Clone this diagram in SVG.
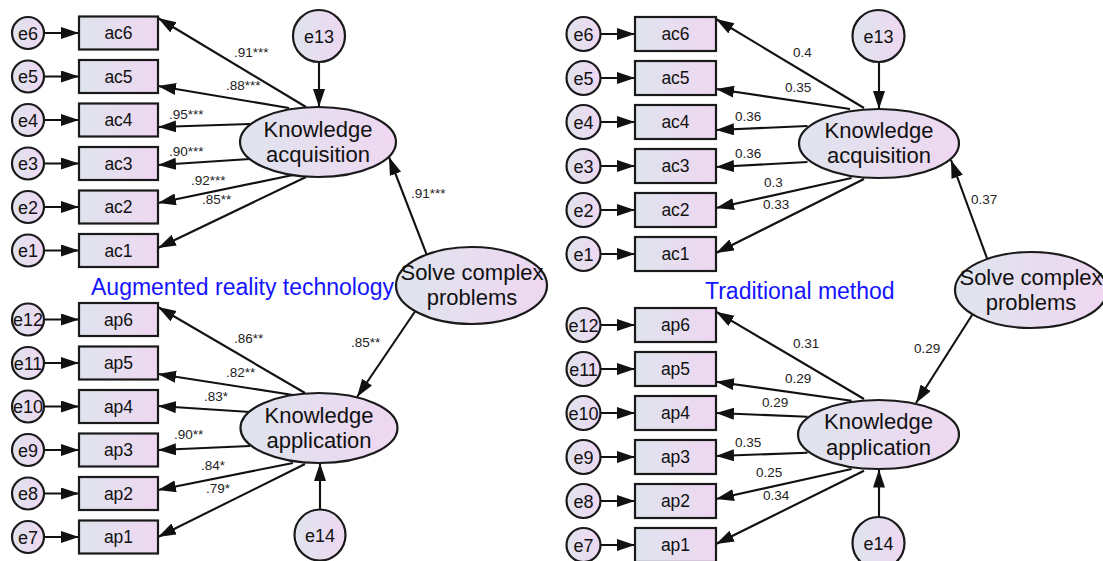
<svg xmlns="http://www.w3.org/2000/svg" width="1103" height="561" viewBox="0 0 1103 561">
<defs>
<linearGradient id="g" x1="0" y1="0" x2="1" y2="0">
<stop offset="0" stop-color="#dfe4ee"/>
<stop offset="1" stop-color="#efd7f1"/>
</linearGradient>
<marker id="ah" markerUnits="userSpaceOnUse" markerWidth="20" markerHeight="13" refX="18" refY="6" orient="auto">
<path d="M0,0 L18,6 L0,12 Z" fill="#111"/>
</marker>
<style>
.c line{stroke:#111;stroke-width:2.1;marker-end:url(#ah)}
.c text,.n text{font-family:"Liberation Sans",Arial,sans-serif}
.lab{font-size:13.5px;fill:#222}
.n rect,.n circle,.n ellipse{fill:url(#g);stroke:#1a1a1a;stroke-width:2.2}
.n text{fill:#111;text-anchor:middle}
.et{font-size:18px}
.rt{font-size:17.5px}
.lt{font-size:22px}
.title{font-family:"Liberation Sans",Arial,sans-serif;font-size:23px;fill:#1414ff}
</style>
</defs>

<g id="connectors" class="c">
<line x1="44" y1="33" x2="79" y2="33"/>
<line x1="44" y1="76.5" x2="79" y2="76.5"/>
<line x1="44" y1="120" x2="79" y2="120"/>
<line x1="44" y1="163.5" x2="79" y2="163.5"/>
<line x1="44" y1="207" x2="79" y2="207"/>
<line x1="44" y1="250.5" x2="79" y2="250.5"/>
<line x1="44" y1="319.5" x2="79" y2="319.5"/>
<line x1="44" y1="363" x2="79" y2="363"/>
<line x1="44" y1="406.5" x2="79" y2="406.5"/>
<line x1="44" y1="450" x2="79" y2="450"/>
<line x1="44" y1="493.5" x2="79" y2="493.5"/>
<line x1="44" y1="537" x2="79" y2="537"/>
<line x1="306" y1="107" x2="158" y2="18"/>
<line x1="289" y1="108" x2="158" y2="86"/>
<line x1="250" y1="124" x2="158" y2="127"/>
<line x1="250" y1="159" x2="158" y2="165"/>
<line x1="293" y1="175" x2="158" y2="203"/>
<line x1="306" y1="177" x2="158" y2="248"/>
<line x1="305" y1="393" x2="158" y2="307"/>
<line x1="293" y1="395" x2="158" y2="374"/>
<line x1="250" y1="412" x2="158" y2="406"/>
<line x1="250" y1="446" x2="158" y2="450"/>
<line x1="293" y1="463" x2="158" y2="490"/>
<line x1="305" y1="464" x2="158" y2="537"/>
<line x1="319" y1="62" x2="319" y2="107"/>
<line x1="320" y1="509" x2="320" y2="463"/>
<line x1="428" y1="258" x2="389" y2="157"/>
<line x1="416" y1="310" x2="357" y2="397"/>
<line x1="600.5" y1="34" x2="635" y2="34"/>
<line x1="600.5" y1="78" x2="635" y2="78"/>
<line x1="600.5" y1="122" x2="635" y2="122"/>
<line x1="600.5" y1="166" x2="635" y2="166"/>
<line x1="600.5" y1="210" x2="635" y2="210"/>
<line x1="600.5" y1="254" x2="635" y2="254"/>
<line x1="600.5" y1="325" x2="635" y2="325"/>
<line x1="600.5" y1="369" x2="635" y2="369"/>
<line x1="600.5" y1="413" x2="635" y2="413"/>
<line x1="600.5" y1="457" x2="635" y2="457"/>
<line x1="600.5" y1="501" x2="635" y2="501"/>
<line x1="600.5" y1="545" x2="635" y2="545"/>
<line x1="864" y1="108" x2="716" y2="19"/>
<line x1="850" y1="109" x2="716" y2="89"/>
<line x1="807.5" y1="126" x2="716" y2="130"/>
<line x1="807.5" y1="162" x2="716" y2="167"/>
<line x1="851.6" y1="178" x2="716" y2="208"/>
<line x1="864" y1="179" x2="716" y2="253"/>
<line x1="864" y1="399" x2="716" y2="311.7"/>
<line x1="851.6" y1="400.7" x2="716" y2="381.7"/>
<line x1="807.5" y1="416.7" x2="716" y2="413"/>
<line x1="807.5" y1="452.7" x2="716" y2="456"/>
<line x1="851.6" y1="469" x2="716" y2="499"/>
<line x1="864" y1="470.7" x2="716" y2="544"/>
<line x1="879" y1="62" x2="879" y2="109"/>
<line x1="879" y1="517" x2="879" y2="469.5"/>
<line x1="988" y1="261" x2="951" y2="160"/>
<line x1="974" y1="312" x2="916" y2="403"/>

<text class="lab" x="234" y="57">.91***</text>
<text class="lab" x="226" y="90">.88***</text>
<text class="lab" x="169" y="119">.95***</text>
<text class="lab" x="169" y="156">.90***</text>
<text class="lab" x="191" y="185">.92***</text>
<text class="lab" x="202" y="204">.85**</text>
<text class="lab" x="411" y="198">.91***</text>
<text class="lab" x="234" y="343">.86**</text>
<text class="lab" x="226" y="377">.82**</text>
<text class="lab" x="204" y="401">.83*</text>
<text class="lab" x="174" y="439">.90**</text>
<text class="lab" x="201" y="470">.84*</text>
<text class="lab" x="206" y="493">.79*</text>
<text class="lab" x="351" y="347">.85**</text>
<text class="lab" x="793" y="57">0.4</text>
<text class="lab" x="785" y="92">0.35</text>
<text class="lab" x="735" y="121">0.36</text>
<text class="lab" x="735" y="158">0.36</text>
<text class="lab" x="764" y="187">0.3</text>
<text class="lab" x="763" y="209">0.33</text>
<text class="lab" x="971" y="204">0.37</text>
<text class="lab" x="793" y="348">0.31</text>
<text class="lab" x="785" y="383">0.29</text>
<text class="lab" x="762" y="407">0.29</text>
<text class="lab" x="735" y="447">0.35</text>
<text class="lab" x="756" y="477">0.25</text>
<text class="lab" x="763" y="500">0.34</text>
<text class="lab" x="914" y="353">0.29</text>
</g>

<text class="title" x="91" y="295">Augmented reality technology</text>
<text class="title" x="705" y="299">Traditional method</text>

<g class="n">
<g id="L-e6"><circle cx="28" cy="33" r="16"/><text class="et" x="28" y="39.5">e6</text></g>
<g id="L-e5"><circle cx="28" cy="76.5" r="16"/><text class="et" x="28" y="83">e5</text></g>
<g id="L-e4"><circle cx="28" cy="120" r="16"/><text class="et" x="28" y="126.5">e4</text></g>
<g id="L-e3"><circle cx="28" cy="163.5" r="16"/><text class="et" x="28" y="170">e3</text></g>
<g id="L-e2"><circle cx="28" cy="207" r="16"/><text class="et" x="28" y="213.5">e2</text></g>
<g id="L-e1"><circle cx="28" cy="250.5" r="16"/><text class="et" x="28" y="257">e1</text></g>
<g id="L-e12"><circle cx="28" cy="319.5" r="16"/><text class="et" x="28" y="326">e12</text></g>
<g id="L-e11"><circle cx="28" cy="363" r="16"/><text class="et" x="28" y="369.5">e11</text></g>
<g id="L-e10"><circle cx="28" cy="406.5" r="16"/><text class="et" x="28" y="413">e10</text></g>
<g id="L-e9"><circle cx="28" cy="450" r="16"/><text class="et" x="28" y="456.5">e9</text></g>
<g id="L-e8"><circle cx="28" cy="493.5" r="16"/><text class="et" x="28" y="500">e8</text></g>
<g id="L-e7"><circle cx="28" cy="537" r="16"/><text class="et" x="28" y="543.5">e7</text></g>

<g id="L-ac6"><rect x="79" y="16.5" width="79" height="33"/><text class="rt" x="118.5" y="39">ac6</text></g>
<g id="L-ac5"><rect x="79" y="60" width="79" height="33"/><text class="rt" x="118.5" y="82.5">ac5</text></g>
<g id="L-ac4"><rect x="79" y="103.5" width="79" height="33"/><text class="rt" x="118.5" y="126">ac4</text></g>
<g id="L-ac3"><rect x="79" y="147" width="79" height="33"/><text class="rt" x="118.5" y="169.5">ac3</text></g>
<g id="L-ac2"><rect x="79" y="190.5" width="79" height="33"/><text class="rt" x="118.5" y="213">ac2</text></g>
<g id="L-ac1"><rect x="79" y="234" width="79" height="33"/><text class="rt" x="118.5" y="256.5">ac1</text></g>
<g id="L-ap6"><rect x="79" y="303" width="79" height="33"/><text class="rt" x="118.5" y="325.5">ap6</text></g>
<g id="L-ap5"><rect x="79" y="346.5" width="79" height="33"/><text class="rt" x="118.5" y="369">ap5</text></g>
<g id="L-ap4"><rect x="79" y="390" width="79" height="33"/><text class="rt" x="118.5" y="412.5">ap4</text></g>
<g id="L-ap3"><rect x="79" y="433.5" width="79" height="33"/><text class="rt" x="118.5" y="456">ap3</text></g>
<g id="L-ap2"><rect x="79" y="477" width="79" height="33"/><text class="rt" x="118.5" y="499.5">ap2</text></g>
<g id="L-ap1"><rect x="79" y="520.5" width="79" height="33"/><text class="rt" x="118.5" y="543">ap1</text></g>

<g id="L-e13"><circle cx="319" cy="36" r="26"/><text class="et" x="319" y="42.5">e13</text></g>
<g id="L-KA"><ellipse cx="318" cy="142" rx="78" ry="35"/><text class="lt" x="318" y="137">Knowledge</text><text class="lt" x="318" y="162">acquisition</text></g>
<g id="L-SCP"><ellipse cx="471.5" cy="285.5" rx="75.5" ry="38.5"/><text class="lt" x="472" y="280">Solve complex</text><text class="lt" x="472" y="305">problems</text></g>
<g id="L-KApp"><ellipse cx="319" cy="428" rx="78.5" ry="35"/><text class="lt" x="319" y="423">Knowledge</text><text class="lt" x="319" y="448">application</text></g>
<g id="L-e14"><circle cx="320" cy="535" r="25.5"/><text class="et" x="320" y="541.5">e14</text></g>
</g>

<g class="n">
<g id="R-e6"><circle cx="583.5" cy="34" r="17"/><text class="et" x="583.5" y="40.5">e6</text></g>
<g id="R-e5"><circle cx="583.5" cy="78" r="17"/><text class="et" x="583.5" y="84.5">e5</text></g>
<g id="R-e4"><circle cx="583.5" cy="122" r="17"/><text class="et" x="583.5" y="128.5">e4</text></g>
<g id="R-e3"><circle cx="583.5" cy="166" r="17"/><text class="et" x="583.5" y="172.5">e3</text></g>
<g id="R-e2"><circle cx="583.5" cy="210" r="17"/><text class="et" x="583.5" y="216.5">e2</text></g>
<g id="R-e1"><circle cx="583.5" cy="254" r="17"/><text class="et" x="583.5" y="260.5">e1</text></g>
<g id="R-e12"><circle cx="583.5" cy="325" r="17"/><text class="et" x="583.5" y="331.5">e12</text></g>
<g id="R-e11"><circle cx="583.5" cy="369" r="17"/><text class="et" x="583.5" y="375.5">e11</text></g>
<g id="R-e10"><circle cx="583.5" cy="413" r="17"/><text class="et" x="583.5" y="419.5">e10</text></g>
<g id="R-e9"><circle cx="583.5" cy="457" r="17"/><text class="et" x="583.5" y="463.5">e9</text></g>
<g id="R-e8"><circle cx="583.5" cy="501" r="17"/><text class="et" x="583.5" y="507.5">e8</text></g>
<g id="R-e7"><circle cx="583.5" cy="545" r="17"/><text class="et" x="583.5" y="551.5">e7</text></g>

<g id="R-ac6"><rect x="635" y="17" width="81" height="34"/><text class="rt" x="675.5" y="40">ac6</text></g>
<g id="R-ac5"><rect x="635" y="61" width="81" height="34"/><text class="rt" x="675.5" y="84">ac5</text></g>
<g id="R-ac4"><rect x="635" y="105" width="81" height="34"/><text class="rt" x="675.5" y="128">ac4</text></g>
<g id="R-ac3"><rect x="635" y="149" width="81" height="34"/><text class="rt" x="675.5" y="172">ac3</text></g>
<g id="R-ac2"><rect x="635" y="193" width="81" height="34"/><text class="rt" x="675.5" y="216">ac2</text></g>
<g id="R-ac1"><rect x="635" y="237" width="81" height="34"/><text class="rt" x="675.5" y="260">ac1</text></g>
<g id="R-ap6"><rect x="635" y="308" width="81" height="34"/><text class="rt" x="675.5" y="331">ap6</text></g>
<g id="R-ap5"><rect x="635" y="352" width="81" height="34"/><text class="rt" x="675.5" y="375">ap5</text></g>
<g id="R-ap4"><rect x="635" y="396" width="81" height="34"/><text class="rt" x="675.5" y="419">ap4</text></g>
<g id="R-ap3"><rect x="635" y="440" width="81" height="34"/><text class="rt" x="675.5" y="463">ap3</text></g>
<g id="R-ap2"><rect x="635" y="484" width="81" height="34"/><text class="rt" x="675.5" y="507">ap2</text></g>
<g id="R-ap1"><rect x="635" y="528" width="81" height="34"/><text class="rt" x="675.5" y="551">ap1</text></g>

<g id="R-e13"><circle cx="878.5" cy="36" r="26"/><text class="et" x="878.5" y="42.5">e13</text></g>
<g id="R-KA"><ellipse cx="879" cy="143.5" rx="80" ry="34.5"/><text class="lt" x="879" y="138">Knowledge</text><text class="lt" x="879" y="163">acquisition</text></g>
<g id="R-SCP"><ellipse cx="1031" cy="290" rx="76" ry="38"/><text class="lt" x="1031" y="284.5">Solve complex</text><text class="lt" x="1031" y="309.5">problems</text></g>
<g id="R-KApp"><ellipse cx="878.5" cy="434.5" rx="80.5" ry="34.5"/><text class="lt" x="878.5" y="429">Knowledge</text><text class="lt" x="878.5" y="455">application</text></g>
<g id="R-e14"><circle cx="878.5" cy="543" r="26"/><text class="et" x="878.5" y="549.5">e14</text></g>
</g>
</svg>
